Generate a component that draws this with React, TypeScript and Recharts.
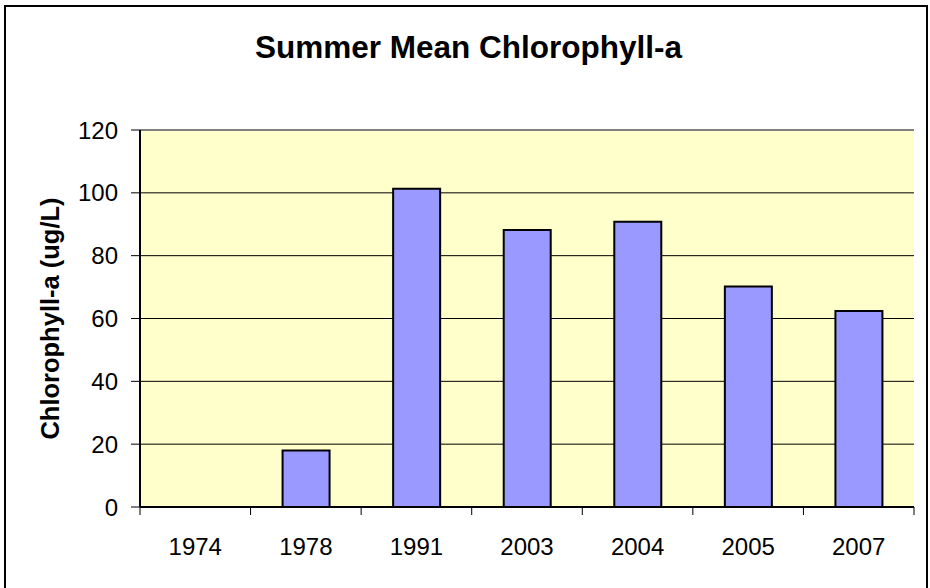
import React from "react";
import {
  BarChart,
  Bar,
  XAxis,
  YAxis,
  CartesianGrid,
  ReferenceLine,
} from "recharts";

// values
const years = ["1974", "1978", "1991", "2003", "2004", "2005", "2007"];
const chlorophyll = [null, 18, 101.3, 88.2, 90.8, 70.2, 62.4];
const yTicks = [0, 20, 40, 60, 80, 100, 120];

const data = years.map((year, i) => ({ year, chl: chlorophyll[i] }));

const FONT = "'Liberation Sans', Arial, sans-serif";
const WIDTH = 930;
const HEIGHT = 588;
const MARGIN = { top: 130, right: 16, left: 0, bottom: 41 };
const Y_AXIS_W = 140;
const BAND = (WIDTH - MARGIN.right - Y_AXIS_W) / years.length;

// Excel style category axis: tick marks sit between the categories
function YearTick(props: any) {
  const { x, y, payload, index } = props;
  const left = x - BAND / 2;
  const right = x + BAND / 2;
  return (
    <g>
      <line x1={left} y1={y} x2={left} y2={y + 8} stroke="#000" strokeWidth={1} />
      {index === years.length - 1 && (
        <line x1={right} y1={y} x2={right} y2={y + 8} stroke="#000" strokeWidth={1} />
      )}
      <text
        x={x}
        y={y + 48}
        textAnchor="middle"
        fontSize={24}
        fontFamily={FONT}
        fill="#000"
      >
        {payload.value}
      </text>
    </g>
  );
}

function YLabel(props: any) {
  const vb = props.viewBox || {};
  const cx = (vb.x || 0) + 50;
  const cy = (vb.y || 0) + (vb.height || 0) / 2;
  return (
    <text
      x={cx}
      y={cy}
      transform={`rotate(-90, ${cx}, ${cy})`}
      textAnchor="middle"
      dominantBaseline="central"
      fontSize={25.5}
      fontWeight="bold"
      fontFamily={FONT}
      fill="#000"
    >
      Chlorophyll-a (ug/L)
    </text>
  );
}

export default function App() {
  return (
    <div
      style={{
        position: "fixed",
        top: 0,
        left: 0,
        width: WIDTH,
        height: HEIGHT,
        overflow: "hidden",
        background: "#fff",
        fontFamily: FONT,
      }}
    >
      <div
        style={{
          position: "absolute",
          left: 4,
          top: 5,
          width: 920,
          height: 620,
          border: "2px solid #000",
        }}
      />
      <div
        style={{
          position: "absolute",
          left: 0,
          top: 32,
          width: 937,
          textAlign: "center",
          fontSize: 31.5,
          lineHeight: "31px",
          fontWeight: "bold",
          color: "#000",
        }}
      >
        Summer Mean Chlorophyll-a
      </div>
      <div style={{ position: "absolute", left: 0, top: 0 }}>
        <BarChart width={WIDTH} height={HEIGHT} data={data} margin={MARGIN}>
          <CartesianGrid
            yAxisId="l"
            vertical={false}
            stroke="#000"
            strokeWidth={1}
            fill="#FFFFCC"
            fillOpacity={1}
          />
          <XAxis
            dataKey="year"
            height={40}
            axisLine={{ stroke: "#000", strokeWidth: 2 }}
            tickLine={false}
            tickSize={0}
            tickMargin={0}
            interval={0}
            tick={<YearTick />}
          />
          <YAxis
            yAxisId="l"
            width={Y_AXIS_W}
            domain={[0, 120]}
            ticks={yTicks}
            interval={0}
            axisLine={{ stroke: "#000", strokeWidth: 2 }}
            tickLine={{ stroke: "#000", strokeWidth: 1 }}
            tickSize={9}
            tickMargin={13}
            tick={{ fill: "#000", fontSize: 24, fontFamily: FONT }}
            label={<YLabel />}
          />
          <YAxis
            yAxisId="r"
            orientation="right"
            width={0}
            tick={false}
            tickLine={false}
            axisLine={{ stroke: "#808080", strokeWidth: 2 }}
          />
          <ReferenceLine yAxisId="l" y={120} stroke="#808080" strokeWidth={2} />
          <Bar
            yAxisId="l"
            dataKey="chl"
            barSize={47}
            fill="#9999FF"
            stroke="#000"
            strokeWidth={2}
            isAnimationActive={false}
          />
        </BarChart>
      </div>
    </div>
  );
}
